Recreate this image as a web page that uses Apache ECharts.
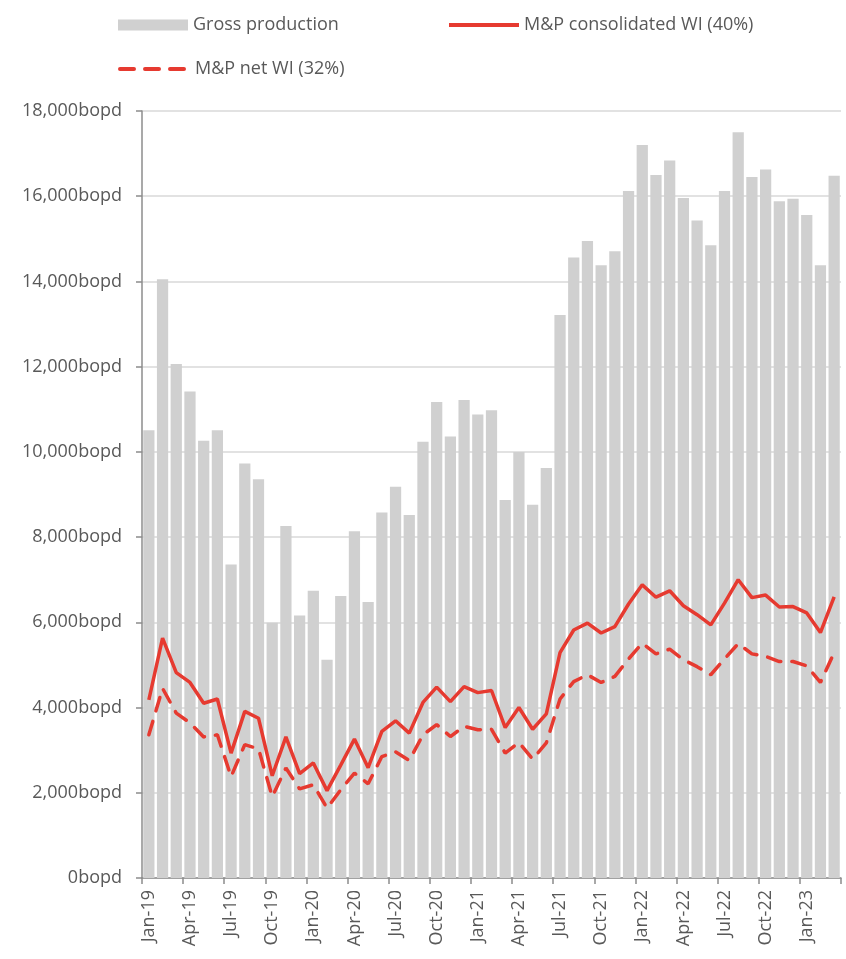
<!DOCTYPE html>
<html>
<head>
<meta charset="utf-8">
<script src="https://cdn.jsdelivr.net/npm/echarts@6/dist/echarts.min.js"></script>
<style>html,body{margin:0;padding:0;background:#fff;}#c{width:846px;height:959px;}</style>
</head>
<body>
<div id="c"></div>
<script>
const months = ['Jan','Feb','Mar','Apr','May','Jun','Jul','Aug','Sep','Oct','Nov','Dec'];
const categories = [];
for (let y = 19; y <= 23; y++) for (let m = 0; m < 12; m++) { if (y === 23 && m > 2) break; categories.push(months[m] + '-' + y); }

const grossProduction = [
  10510, 14050, 12060, 11420, 10260, 10510, 7360, 9730, 9360, 5990, 8260, 6160,
  6740, 5120, 6620, 8140, 6480, 8580, 9180, 8520, 10240, 11170, 10360, 11220,
  10880, 10980, 8870, 10000, 8760, 9620, 13210, 14560, 14950, 14380, 14710, 16120,
  17200, 16500, 16840, 15960, 15430, 14850, 16120, 17500, 16450, 16630, 15880, 15940,
  15560, 14380, 16480
];
const consolidatedWI = [
  4180, 5630, 4820, 4590, 4100, 4200, 2930, 3910, 3750, 2400, 3310, 2450,
  2700, 2050, 2650, 3260, 2590, 3440, 3690, 3400, 4120, 4480, 4140, 4490,
  4350, 4400, 3530, 4000, 3490, 3850, 5290, 5820, 5980, 5750, 5900, 6430,
  6880, 6590, 6740, 6390, 6180, 5940, 6450, 7000, 6580, 6640, 6360, 6370,
  6220, 5760, 6600
];
const netWI = [
  3360, 4450, 3870, 3640, 3310, 3360, 2380, 3130, 3030, 1910, 2580, 2090,
  2190, 1640, 2070, 2460, 2210, 2850, 2960, 2760, 3360, 3600, 3320, 3560,
  3480, 3490, 2930, 3180, 2790, 3170, 4200, 4610, 4770, 4590, 4730, 5140,
  5510, 5260, 5370, 5120, 4960, 4770, 5140, 5500, 5260, 5200, 5080, 5080,
  4980, 4590, 5290
];
const yTicks = { min: 0, max: 18000, interval: 2000 };

const FONT = 'Open Sans';
const TXT = '#595959';
const RED = '#E63A30';
const DASH = [14, 11];

const chart = echarts.init(document.getElementById('c'), null, { renderer: 'canvas' });
chart.setOption({
  animation: false,
  textStyle: { fontFamily: FONT },
  grid: { left: 142, right: 5, top: 111, bottom: 81, containLabel: false },
  legend: [
    { data: [{ name: 'Gross production', icon: 'rect' }], left: 113, top: 11, itemWidth: 70, itemHeight: 11,
      textStyle: { fontFamily: FONT, fontSize: 18, color: TXT } },
    { data: [{ name: 'M&P consolidated WI (40%)', itemStyle: { opacity: 0 }, lineStyle: { width: 4, color: RED } }],
      left: 442, top: 11, itemWidth: 70, itemHeight: 11,
      textStyle: { fontFamily: FONT, fontSize: 18, color: TXT } },
    { data: [{ name: 'M&P net WI (32%)', itemStyle: { opacity: 0 }, lineStyle: { width: 4, color: RED, type: DASH, cap: 'round' } }],
      left: 113, top: 55, itemWidth: 70, itemHeight: 11,
      textStyle: { fontFamily: FONT, fontSize: 18, color: TXT } }
  ],
  xAxis: {
    type: 'category',
    data: categories,
    boundaryGap: true,
    axisLine: { lineStyle: { color: '#8c8c8c', width: 1.5 } },
    axisTick: { show: true, interval: 2, length: 6, alignWithLabel: false, lineStyle: { color: '#8c8c8c', width: 1.5 } },
    axisLabel: { interval: 2, rotate: 90, margin: 12, fontFamily: FONT, fontSize: 18, color: TXT }
  },
  yAxis: {
    type: 'value',
    min: yTicks.min, max: yTicks.max, interval: yTicks.interval,
    axisLine: { show: true, lineStyle: { color: '#8c8c8c', width: 1.5 } },
    axisTick: { show: true, length: 6, inside: false, lineStyle: { color: '#8c8c8c', width: 1.5 } },
    splitLine: { show: true, lineStyle: { color: '#d9d9d9', width: 1.5 } },
    axisLabel: {
      margin: 20, fontFamily: FONT, fontSize: 18, color: TXT,
      formatter: v => v.toLocaleString('en-US') + 'bopd'
    }
  },
  series: [
    { name: 'Gross production', type: 'bar', data: grossProduction, barCategoryGap: '18%',
      itemStyle: { color: '#d0d0d0' }, z: 1 },
    { name: 'M&P consolidated WI (40%)', type: 'line', data: consolidatedWI, symbol: 'none',
      lineStyle: { color: RED, width: 3.5 }, itemStyle: { color: RED }, z: 3 },
    { name: 'M&P net WI (32%)', type: 'line', data: netWI, symbol: 'none',
      lineStyle: { color: RED, width: 3.5, type: DASH, cap: 'round' }, itemStyle: { color: RED }, z: 2 }
  ]
});
</script>
</body>
</html>
